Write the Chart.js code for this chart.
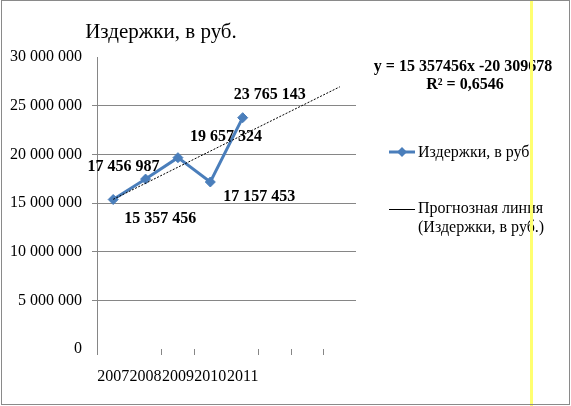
<!DOCTYPE html>
<html>
<head>
<meta charset="utf-8">
<script src="https://cdn.jsdelivr.net/npm/chart.js@4.4.0/dist/chart.umd.min.js"></script>
<style>
  html, body { margin: 0; padding: 0; background: #fff; }
  canvas { display: block; }
</style>
</head>
<body>
<canvas id="c" width="571" height="406"></canvas>
<script>
// ---- data ----
const categories = ['2007', '2008', '2009', '2010', '2011', '', '', ''];
const costs = [15357456, 17456987, 19657324, 17157453, 23765143];
// trendline endpoints (start at 2007, end 3 periods ahead)
const trendValues = [15375700, null, null, null, null, null, null, 26937400];
const yTicks = [0, 5000000, 10000000, 15000000, 20000000, 25000000, 30000000];
const titleText = 'Издержки, в руб.';
const seriesName = 'Издержки, в руб.';
const trendNameLines = ['Прогнозная линия', '(Издержки, в руб.)'];
const equationLines = ['y = 15 357456x -20 309678', 'R² = 0,6546'];

const BLUE = '#4A7EBB';
const GRID = '#868686';
const SERIF = '"Liberation Serif", "Times New Roman", serif';

function fmt(v) {
  return String(Math.round(v)).replace(/\B(?=(\d{3})+(?!\d))/g, ' ');
}

// label offsets relative to each point (style, not data)
const labelOffsets = [[47, 19], [-22, -12], [48, -21], [49, 15], [27, -23]];

const overlay = {
  id: 'overlay',
  beforeDraw(chart) {
    const ctx = chart.ctx;
    ctx.save();
    ctx.fillStyle = '#fff';
    ctx.fillRect(0, 0, chart.width, chart.height);
    ctx.restore();
  },
  afterDraw(chart) {
    const ctx = chart.ctx;
    ctx.save();
    // title
    ctx.fillStyle = '#000';
    ctx.font = '21px ' + SERIF;
    ctx.textAlign = 'center';
    ctx.textBaseline = 'middle';
    ctx.fillText(titleText, 161, 32);

    // data labels
    const meta = chart.getDatasetMeta(1);
    ctx.font = 'bold 16px ' + SERIF;
    meta.data.forEach((pt, i) => {
      const off = labelOffsets[i];
      ctx.fillText(fmt(costs[i]), pt.x + off[0], pt.y + off[1]);
    });

    // equation
    ctx.fillText(equationLines[0], 463, 67);
    ctx.fillText(equationLines[1], 465, 85);

    // legend
    ctx.textAlign = 'left';
    ctx.font = '16px ' + SERIF;
    ctx.strokeStyle = BLUE;
    ctx.lineWidth = 3;
    ctx.beginPath(); ctx.moveTo(389, 152); ctx.lineTo(415, 152); ctx.stroke();
    ctx.fillStyle = BLUE;
    ctx.beginPath();
    ctx.moveTo(402, 147); ctx.lineTo(407, 152); ctx.lineTo(402, 157); ctx.lineTo(397, 152);
    ctx.closePath(); ctx.fill();
    ctx.fillStyle = '#000';
    ctx.fillText(seriesName, 418, 153);

    ctx.strokeStyle = '#000';
    ctx.lineWidth = 1;
    ctx.beginPath(); ctx.moveTo(389, 209.5); ctx.lineTo(415, 209.5); ctx.stroke();
    ctx.fillText(trendNameLines[0], 418, 209);
    ctx.fillText(trendNameLines[1], 418, 228);

    // yellow vertical line
    ctx.fillStyle = '#FFFF70';
    ctx.fillRect(530, 0, 3, chart.height);

    // outer border
    ctx.strokeStyle = '#8a8a8a';
    ctx.lineWidth = 1;
    ctx.strokeRect(1.5, 0.5, 568, 404);
    ctx.restore();
  }
};

new Chart(document.getElementById('c'), {
  type: 'line',
  data: {
    labels: categories,
    datasets: [
      {
        label: 'Прогнозная линия (Издержки, в руб.)',
        data: trendValues,
        spanGaps: true,
        borderColor: '#000',
        borderWidth: 1,
        borderDash: [2, 1.5],
        pointRadius: 0,
        fill: false,
        order: 0
      },
      {
        label: seriesName,
        data: costs,
        borderColor: BLUE,
        backgroundColor: BLUE,
        borderWidth: 3,
        pointStyle: 'rectRot',
        pointRadius: 5,
        pointBackgroundColor: BLUE,
        pointBorderColor: BLUE,
        pointBorderWidth: 1,
        tension: 0,
        fill: false,
        order: 1
      }
    ]
  },
  options: {
    responsive: false,
    animation: false,
    devicePixelRatio: 1,
    layout: { padding: { left: 0, right: 215, top: 57, bottom: 0 } },
    plugins: { legend: { display: false }, title: { display: false }, tooltip: { enabled: false } },
    scales: {
      x: {
        type: 'category',
        offset: true,
        afterFit(s) { s.height = 57; },
        border: { display: false },
        grid: {
          offset: true,
          drawOnChartArea: false,
          drawTicks: true,
          tickLength: 6,
          color: (c) => ((c.index === undefined || [1, 4, 8].includes(c.index)) ? 'rgba(0,0,0,0)' : GRID)
        },
        ticks: {
          autoSkip: false,
          maxRotation: 0,
          minRotation: 0,
          padding: 12,
          color: '#000',
          font: { family: SERIF, size: 16 }
        }
      },
      y: {
        min: 0,
        max: 30000000,
        afterFit(s) { s.width = 97; },
        afterBuildTicks(s) { s.ticks = yTicks.map(v => ({ value: v })); },
        border: { display: true, color: GRID, width: 1 },
        grid: {
          color: (c) => ((c.tick && (c.tick.value === 0 || c.tick.value === 30000000)) ? 'rgba(0,0,0,0)' : GRID),
          tickLength: 5,
          drawTicks: true
        },
        ticks: {
          padding: 10,
          color: '#000',
          font: { family: SERIF, size: 16 },
          callback: (v) => fmt(v)
        }
      }
    }
  },
  plugins: [overlay]
});
</script>
</body>
</html>
